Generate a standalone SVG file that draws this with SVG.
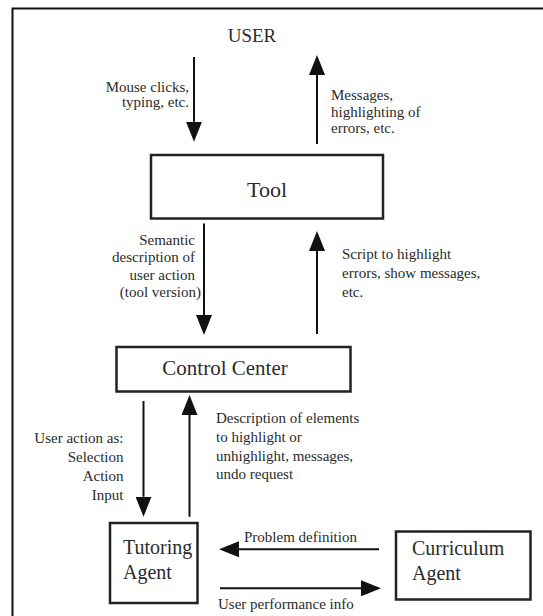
<svg xmlns="http://www.w3.org/2000/svg" width="543" height="616" viewBox="0 0 543 616">
<style>
  text { font-family: "Liberation Serif", "Times New Roman", serif; fill: #2b2b2b; }
  .lbl { font-size: 15px; }
  .end { text-anchor: end; }
  .mid { text-anchor: middle; }
  .box { fill: #fff; stroke: #222; stroke-width: 2.5; }
  .conn line { stroke: #111; stroke-width: 2; fill: none; marker-end: url(#head); }
  .frame { stroke: #111; stroke-width: 2; fill: none; }
</style>
<defs>
  <marker id="head" markerUnits="userSpaceOnUse" markerWidth="20" markerHeight="16" refX="0" refY="8" orient="auto">
    <path d="M0,0 L20,8 L0,16 Z" fill="#111"/>
  </marker>
</defs>
<rect width="543" height="616" fill="#fff"/>
<path class="frame" d="M12.5,616 L12.5,8.5 L543,8.5"/>

<g id="user">
  <text x="252" y="42" class="mid" font-size="19">USER</text>
</g>

<g id="tool">
  <rect class="box" x="151" y="155" width="232" height="63.5"/>
  <text x="267" y="197" class="mid" font-size="22">Tool</text>
</g>

<g id="control-center">
  <rect class="box" x="116.5" y="347" width="234" height="44.5"/>
  <text x="225" y="374.5" class="mid" font-size="21">Control Center</text>
</g>

<g id="tutoring-agent">
  <rect class="box" x="110" y="523" width="87.5" height="80"/>
  <text x="123" y="554" font-size="20">Tutoring</text>
  <text x="123" y="579" font-size="20">Agent</text>
</g>

<g id="curriculum-agent">
  <rect class="box" x="396" y="531.5" width="134.5" height="68"/>
  <text x="412" y="554.5" font-size="20">Curriculum</text>
  <text x="412" y="579.5" font-size="20">Agent</text>
</g>

<g id="connectors" class="conn">
  <line x1="194" y1="57" x2="194" y2="121.7"/>
  <line x1="317" y1="144" x2="317" y2="75"/>
  <line x1="204" y1="223.5" x2="204" y2="315"/>
  <line x1="317" y1="334" x2="317" y2="251"/>
  <line x1="143.5" y1="401" x2="143.5" y2="496.7"/>
  <line x1="189.5" y1="516.7" x2="189.5" y2="415"/>
  <line x1="379" y1="549.3" x2="239" y2="549.3"/>
  <line x1="220" y1="588.3" x2="361" y2="588.3"/>
</g>

<g id="labels" class="lbl">
  <text x="189" y="92" class="end">Mouse clicks,</text>
  <text x="189" y="107" class="end">typing, etc.</text>

  <text x="331" y="100">Messages,</text>
  <text x="331" y="116.7">highlighting of</text>
  <text x="331" y="133">errors, etc.</text>

  <text x="195" y="245" class="end">Semantic</text>
  <text x="195" y="262" class="end">description of</text>
  <text x="195" y="280" class="end">user action</text>
  <text x="201" y="297" class="end">(tool version)</text>

  <text x="342" y="259">Script to highlight</text>
  <text x="342" y="278">errors, show messages,</text>
  <text x="342" y="296.5">etc.</text>

  <text x="123.5" y="443.3" class="end">User action as:</text>
  <text x="123.5" y="462.3" class="end">Selection</text>
  <text x="123.5" y="481" class="end">Action</text>
  <text x="123.5" y="499.5" class="end">Input</text>

  <text x="216" y="423">Description of elements</text>
  <text x="216" y="441.5">to highlight or</text>
  <text x="216" y="460.5">unhighlight, messages,</text>
  <text x="216" y="479">undo request</text>

  <text x="244" y="541.7">Problem definition</text>
  <text x="218" y="609">User performance info</text>
</g>
</svg>
